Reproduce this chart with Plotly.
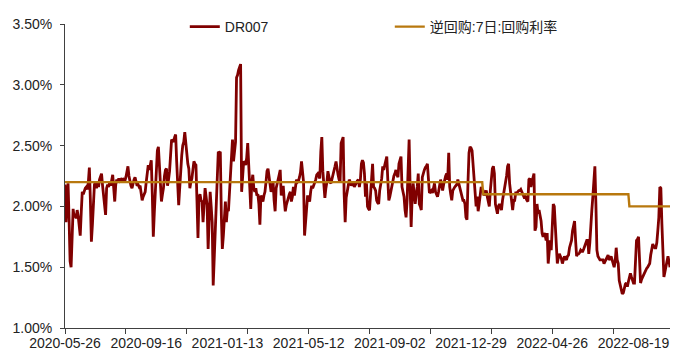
import pandas as pd
import plotly.graph_objects as go

# ---- trading calendar (China interbank) ----
start_date = "2020-05-26"
end_search = "2022-10-31"
holidays = ["2020-06-25", "2020-06-26", "2020-10-01", "2020-10-02", "2020-10-05", "2020-10-06",
            "2020-10-07", "2020-10-08", "2021-01-01", "2021-02-11", "2021-02-12", "2021-02-15",
            "2021-02-16", "2021-02-17", "2021-04-05", "2021-05-03", "2021-05-04", "2021-05-05",
            "2021-06-14", "2021-09-20", "2021-09-21", "2021-10-01", "2021-10-04", "2021-10-05",
            "2021-10-06", "2021-10-07", "2022-01-03", "2022-01-31", "2022-02-01", "2022-02-02",
            "2022-02-03", "2022-02-04", "2022-04-04", "2022-04-05", "2022-05-02", "2022-05-03",
            "2022-05-04", "2022-06-03", "2022-09-12", "2022-10-03", "2022-10-04", "2022-10-05",
            "2022-10-06", "2022-10-07"]
makeup_days = ["2020-06-28", "2020-09-27", "2020-10-10", "2021-02-07", "2021-02-20", "2021-04-25",
               "2021-05-08", "2021-09-18", "2021-09-26", "2021-10-09", "2022-01-29", "2022-01-30",
               "2022-04-02", "2022-04-24", "2022-05-07", "2022-10-08", "2022-10-09"]

tick_labels = ["2020-05-26", "2020-09-16", "2021-01-13", "2021-05-12",
               "2021-09-02", "2021-12-29", "2022-04-26", "2022-08-19"]
y_tick_values = [1.0, 1.5, 2.0, 2.5, 3.0, 3.5]
y_tick_labels = ["1.00%", "1.50%", "2.00%", "2.50%", "3.00%", "3.50%"]

# ---- DR007 daily values (%) ----
dr007 = [
    2.18, 1.87, 2.05, 2.19, 1.90, 1.55, 1.50, 1.72, 1.98, 1.91,
    1.94, 1.90, 1.97, 1.92, 1.80, 1.76, 1.95, 2.12, 2.10, 2.14,
    2.15, 2.16, 2.14, 2.20, 2.32, 2.05, 1.71, 1.85, 2.10, 2.18,
    2.20, 2.15, 2.19, 2.16, 2.22, 2.26, 2.27, 2.17, 2.08, 2.00,
    1.93, 2.15, 2.18, 2.16, 2.20, 2.17, 2.21, 2.26, 2.15, 2.04,
    2.18, 2.22, 2.20, 2.23, 2.21, 2.22, 2.20, 2.23, 2.22, 2.21,
    2.24, 2.28, 2.33, 2.25, 2.20, 2.17, 2.15, 2.20, 2.22, 2.24,
    2.20, 2.17, 2.18, 2.16, 2.17, 2.10, 2.05, 2.08, 2.10, 2.12,
    2.20, 2.28, 2.34, 2.30, 2.36, 2.38, 2.10, 1.75, 1.95, 2.15,
    2.40, 2.46, 2.49, 2.30, 2.15, 2.04, 2.10, 2.15, 2.25, 2.30,
    2.31, 2.17, 2.22, 2.29, 2.42, 2.55, 2.54, 2.53, 2.57, 2.59,
    2.37, 2.15, 2.01, 2.15, 2.34, 2.42, 2.50, 2.53, 2.61, 2.50,
    2.42, 2.35, 2.31, 2.15, 2.20, 2.23, 2.30, 2.37, 2.35, 2.34,
    2.05, 1.74, 2.07, 2.10, 2.05, 2.04, 1.87, 2.00, 2.15, 2.08,
    2.01, 1.65, 1.90, 2.12, 2.00, 1.87, 1.35, 1.55, 1.71, 2.00,
    2.20, 2.45, 2.44, 2.45, 1.93, 1.65, 1.76, 1.95, 2.04, 1.87,
    1.98, 1.96, 2.10, 2.20, 2.40, 2.55, 2.37, 2.45, 2.53, 3.06,
    3.08, 3.12, 3.16, 3.17, 2.12, 2.25, 2.37, 2.36, 2.34, 2.40,
    2.52, 2.34, 2.15, 1.98, 2.20, 2.26, 2.15, 2.12, 2.15, 2.09,
    2.10, 2.02, 1.85, 2.09, 2.06, 2.04, 2.09, 2.12, 2.20, 2.29,
    2.31, 2.24, 2.17, 2.12, 2.15, 2.20, 2.05, 1.96, 2.15, 2.18,
    2.22, 2.26, 2.30, 2.09, 2.12, 2.17, 2.05, 1.96, 2.01, 2.05,
    2.07, 2.10, 2.12, 2.04, 2.08, 2.16, 2.09, 2.15, 2.22, 2.20,
    2.21, 2.24, 2.28, 2.37, 2.30, 2.20, 1.76, 1.90, 2.01, 2.09,
    2.06, 2.04, 2.12, 2.17, 2.15, 2.17, 2.19, 2.22, 2.26, 2.27,
    2.25, 2.23, 2.45, 2.57, 2.29, 2.15, 2.07, 2.15, 2.20, 2.29,
    2.24, 2.20, 2.19, 2.22, 2.26, 2.30, 2.33, 2.37, 2.30, 2.26,
    2.22, 2.20, 2.52, 2.55, 2.57, 2.10, 1.87, 2.07, 2.12, 2.17,
    2.22, 2.20, 2.17, 2.19, 2.20, 2.16, 2.18, 2.20, 2.21, 2.22,
    2.16, 2.22, 2.35, 2.38, 2.36, 2.27, 2.08, 2.19, 2.00, 1.98,
    1.97, 2.10, 2.24, 2.35, 2.16, 2.15, 2.13, 2.05, 2.03, 2.02,
    2.13, 2.18, 2.23, 2.33, 2.30, 2.34, 2.38, 2.41, 2.22, 2.05,
    2.08, 2.13, 2.18, 2.22, 2.25, 2.27, 2.30, 2.26, 2.24, 2.35,
    2.39, 2.41, 2.16, 2.12, 2.08, 1.97, 1.91, 2.05, 2.30, 2.55,
    2.16, 1.83, 2.08, 2.19, 2.10, 2.02, 2.10, 2.16, 2.27, 2.02,
    2.00, 1.97, 2.24, 2.28, 2.30, 2.32, 2.33, 2.35, 2.20, 2.11,
    2.12, 2.13, 2.11, 2.15, 2.19, 2.12, 2.10, 2.08, 2.12, 2.16,
    2.22, 2.18, 2.13, 2.18, 2.23, 2.25, 2.27, 2.22, 2.44, 2.16,
    2.10, 2.05, 2.13, 2.15, 2.16, 2.17, 2.18, 2.22, 2.19, 2.16,
    2.11, 2.08, 2.05, 2.05, 2.02, 1.91, 1.89, 2.20, 2.44, 2.49,
    2.48, 2.46, 2.35, 2.24, 2.05, 2.00, 2.08, 1.96, 2.02, 2.08,
    2.16, 2.14, 2.13, 2.09, 2.11, 2.13, 2.08, 2.04, 2.00, 2.13,
    2.27, 2.31, 2.33, 2.27, 2.02, 1.98, 1.94, 2.00, 2.02, 2.00,
    1.97, 2.05, 2.10, 2.16, 2.19, 2.25, 2.33, 2.35, 2.19, 2.10,
    2.00, 1.97, 2.05, 2.05, 2.11, 2.11, 2.12, 2.13, 2.13, 2.14,
    2.12, 2.09, 2.08, 2.09, 2.06, 2.05, 2.04, 2.22, 2.23, 2.16,
    2.20, 2.25, 2.27, 1.80, 1.83, 2.02, 1.94, 1.97, 1.92, 1.88,
    1.78, 1.75, 1.78, 1.76, 1.72, 1.78, 1.53, 1.64, 1.72, 1.64,
    1.88, 2.02, 2.00, 1.80, 1.66, 1.53, 1.58, 1.61, 1.59, 1.57,
    1.53, 1.56, 1.59, 1.57, 1.56, 1.59, 1.60, 1.66, 1.69, 1.72,
    1.80, 1.84, 1.88, 1.72, 1.59, 1.61, 1.61, 1.62, 1.64, 1.63,
    1.63, 1.65, 1.67, 1.69, 1.72, 1.72, 1.61, 1.70, 1.80, 1.97,
    2.08, 2.20, 2.33, 2.02, 1.64, 1.59, 1.57, 1.56, 1.56, 1.56,
    1.56, 1.53, 1.55, 1.56, 1.58, 1.60, 1.56, 1.57, 1.59, 1.55,
    1.53, 1.50, 1.55, 1.66, 1.56, 1.53, 1.39, 1.35, 1.31, 1.28,
    1.29, 1.34, 1.36, 1.37, 1.34, 1.38, 1.42, 1.45, 1.42, 1.39,
    1.37, 1.37, 1.56, 1.72, 1.73, 1.75, 1.56, 1.37, 1.40, 1.42,
    1.44, 1.45, 1.47, 1.49, 1.50, 1.52, 1.53, 1.60, 1.66, 1.69,
    1.67, 1.66, 1.66, 1.70, 1.80, 1.91, 2.16, 2.15, 1.86, 1.56,
    1.42, 1.46, 1.50, 1.56, 1.59, 1.55, 1.50,
]

# ---- 7-day reverse repo rate (%) : effective dates and levels ----
repo_change_dates = ["2020-05-26", "2022-01-17", "2022-08-15"]
repo_rates = [2.20, 2.10, 2.00]

# build calendar
bd = set(pd.bdate_range(start_date, end_search))
bd -= set(pd.to_datetime(holidays))
bd |= set(pd.to_datetime(makeup_days))
days = sorted(bd)
dates = [d.strftime("%Y-%m-%d") for d in days][:len(dr007)]
n = len(dates)
pos = list(range(n))

repo = []
for d in dates:
    r = repo_rates[0]
    for cd, rate in zip(repo_change_dates, repo_rates):
        if d >= cd:
            r = rate
    repo.append(r)

tick_pos = [dates.index(t) for t in tick_labels]

fig = go.Figure()
fig.add_trace(go.Scatter(x=pos, y=dr007, mode="lines", name="DR007",
                         customdata=dates,
                         line=dict(color="#800000", width=2.8)))
fig.add_trace(go.Scatter(x=pos, y=repo, mode="lines", name="逆回购:7日:回购利率",
                         customdata=dates,
                         line=dict(color="#B8780E", width=2.4)))

axis_col = "#404040"
# page body has an 8px margin, so the figure is sized to fill the 685x356 window
fig.update_layout(
    width=677, height=348, autosize=False,
    margin=dict(l=57, r=15, t=16, b=28, pad=0, autoexpand=False),
    paper_bgcolor="white", plot_bgcolor="white",
    font=dict(family="Liberation Sans, Arial, Noto Sans CJK SC", size=14, color="#222222"),
    showlegend=True,
    legend=dict(orientation="h", x=0.198, y=0.99, xanchor="left", yanchor="middle",
                bgcolor="rgba(0,0,0,0)", font=dict(size=14),
                entrywidth=160, entrywidthmode="pixels", traceorder="normal"),
    xaxis=dict(range=[0, n - 1], tickmode="array", tickvals=tick_pos, ticktext=tick_labels,
               ticks="", showline=True, linecolor=axis_col, linewidth=1, automargin=False,
               showgrid=False, zeroline=False, tickfont=dict(size=14), ticklabelstandoff=2,
               minor=dict(tickmode="array", tickvals=list(range(0, n, 60)), ticks="outside",
                          ticklen=5, tickcolor=axis_col, tickwidth=1, showgrid=False)),
    yaxis=dict(range=[1.0, 3.5], tickmode="array", tickvals=y_tick_values, ticktext=y_tick_labels,
               ticks="outside", ticklen=4, automargin=False, ticklabelstandoff=5,
               tickcolor=axis_col, showline=True, linecolor=axis_col, linewidth=1,
               showgrid=False, zeroline=False, tickfont=dict(size=14)),
)

fig.write_html("out.html", config={"displayModeBar": False})
